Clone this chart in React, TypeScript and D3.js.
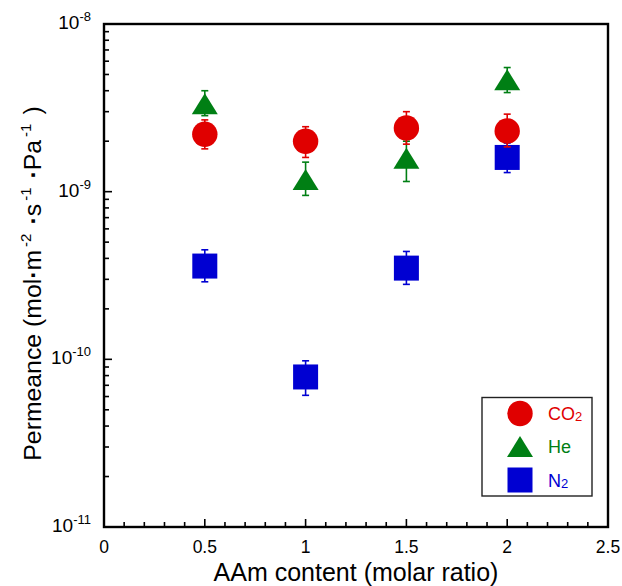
import React from "react";
import * as d3 from "d3";

const xValues = [0.5, 1, 1.5, 2];
const co2Val = [2.2e-9, 2.0e-9, 2.4e-9, 2.3e-9];
const co2Lo = [1.8e-9, 1.6e-9, 1.92e-9, 1.85e-9];
const co2Hi = [2.68e-9, 2.44e-9, 3.0e-9, 2.9e-9];
const heVal = [3.35e-9, 1.18e-9, 1.58e-9, 4.65e-9];
const heLo = [2.84e-9, 0.95e-9, 1.15e-9, 3.9e-9];
const heHi = [4.0e-9, 1.5e-9, 2.0e-9, 5.5e-9];
const n2Val = [3.6e-10, 7.85e-11, 3.5e-10, 1.6e-9];
const n2Lo = [2.9e-10, 6.1e-11, 2.8e-10, 1.3e-9];
const n2Hi = [4.5e-10, 9.8e-11, 4.4e-10, 1.95e-9];

const xTickLabels = ["0", "0.5", "1", "1.5", "2", "2.5"];
const yTickExponents = [-8, -9, -10, -11];

const RED = "#e00000";
const GREEN = "#007f14";
const BLUE = "#0000d2";
const FONT = "'Liberation Sans', Arial, Helvetica, sans-serif";

const W = 622;
const H = 586;
const L = 104, R = 608, T = 24, B = 527;

export default function App() {
  const x = d3.scaleLinear().domain([0, 2.5]).range([L, R]);
  const y = d3.scaleLog().domain([1e-11, 1e-8]).range([B, T]);

  const xMinor = d3.range(0, 26).map((i) => i / 10);
  const yMinor: number[] = [];
  for (let e = -11; e < -8; e++) {
    for (let m = 1; m <= 9; m++) yMinor.push(m * Math.pow(10, e));
  }

  const triPath = (cx: number, cy: number, w: number, h: number) =>
    `M${cx},${cy - h / 2}L${cx + w / 2},${cy + h / 2}L${cx - w / 2},${cy + h / 2}Z`;

  const errBars = (vals: number[], lo: number[], hi: number[], color: string) =>
    xValues.map((xv, i) => {
      const cx = x(xv);
      return (
        <g key={i} stroke={color} strokeWidth={1.6}>
          <line x1={cx} x2={cx} y1={y(lo[i])} y2={y(hi[i])} />
          <line x1={cx - 3.5} x2={cx + 3.5} y1={y(lo[i])} y2={y(lo[i])} />
          <line x1={cx - 3.5} x2={cx + 3.5} y1={y(hi[i])} y2={y(hi[i])} />
        </g>
      );
    });

  const legX = 520;
  const legTextX = 548;

  return (
    <svg width={W} height={H} style={{ position: "absolute", left: 0, top: 0 }} fontFamily={FONT}>
      <rect x={0} y={0} width={W} height={H} fill="#fff" />
      {xMinor.map((v, i) => {
        const major = i % 5 === 0;
        return (
          <line key={"xm" + i} x1={x(v)} x2={x(v)} y1={B} y2={B - (major ? 8 : 5)} stroke="#000" strokeWidth={1.6} />
        );
      })}
      {yMinor.map((v, i) => {
        const major = i % 9 === 0;
        return (
          <line key={"ym" + i} x1={L} x2={L + (major ? 8 : 5)} y1={y(v)} y2={y(v)} stroke="#000" strokeWidth={1.6} />
        );
      })}
      <rect x={L} y={T} width={R - L} height={B - T} fill="none" stroke="#000" strokeWidth={2.4} />

      {xTickLabels.map((t, i) => (
        <text key={"xl" + i} x={x(+t)} y={553} textAnchor="middle" fontSize={17.5} fill="#000">
          {t}
        </text>
      ))}
      {yTickExponents.map((e) => (
        <text key={"yl" + e} x={91} y={y(Math.pow(10, e)) + 5} textAnchor="end" fontSize={19} fill="#000">
          10
          <tspan fontSize={13} dy={-8}>
            {String(e)}
          </tspan>
        </text>
      ))}

      <text x={(L + R) / 2} y={581} textAnchor="middle" fontSize={25} fill="#000">
        AAm content (molar ratio)
      </text>
      <text transform={`translate(41, ${(T + B) / 2 + 8}) rotate(-90)`} textAnchor="middle" fontSize={24.8} fill="#000">
        Permeance (mol
        <tspan fontWeight="bold">·</tspan>m
        <tspan fontSize={15} dy={-10} dx={3}>-2</tspan>
        <tspan dy={10} dx={9} fontWeight="bold">·</tspan>
        <tspan>s</tspan>
        <tspan fontSize={15} dy={-10} dx={3}>-1</tspan>
        <tspan dy={10} dx={9} fontWeight="bold">·</tspan>
        <tspan>Pa</tspan>
        <tspan fontSize={15} dy={-10} dx={3}>-1</tspan>
        <tspan dy={10} dx={9}>)</tspan>
      </text>

      {errBars(n2Val, n2Lo, n2Hi, BLUE)}
      {xValues.map((xv, i) => (
        <rect key={"n2" + i} x={x(xv) - 12.5} y={y(n2Val[i]) - 12.5} width={25} height={25} fill={BLUE} />
      ))}
      {errBars(heVal, heLo, heHi, GREEN)}
      {xValues.map((xv, i) => (
        <path key={"he" + i} d={triPath(x(xv), y(heVal[i]), 26, 21)} fill={GREEN} />
      ))}
      {errBars(co2Val, co2Lo, co2Hi, RED)}
      {xValues.map((xv, i) => (
        <circle key={"co2" + i} cx={x(xv)} cy={y(co2Val[i])} r={12.7} fill={RED} />
      ))}

      <rect x={482} y={397.5} width={110} height={98.5} fill="#fff" stroke="#222" strokeWidth={1.4} />
      <circle cx={legX} cy={413.5} r={12.7} fill={RED} />
      <path d={triPath(legX, 446.5, 26, 21)} fill={GREEN} />
      <rect x={legX - 12.5} y={467.5} width={25} height={25} fill={BLUE} />
      <text x={legTextX} y={420} fontSize={18} fill={RED}>
        CO<tspan fontSize={13} dy={1}>2</tspan>
      </text>
      <text x={legTextX} y={453} fontSize={18} fill={GREEN}>
        He
      </text>
      <text x={legTextX} y={486.5} fontSize={18} fill={BLUE}>
        N<tspan fontSize={13} dy={1}>2</tspan>
      </text>
    </svg>
  );
}
